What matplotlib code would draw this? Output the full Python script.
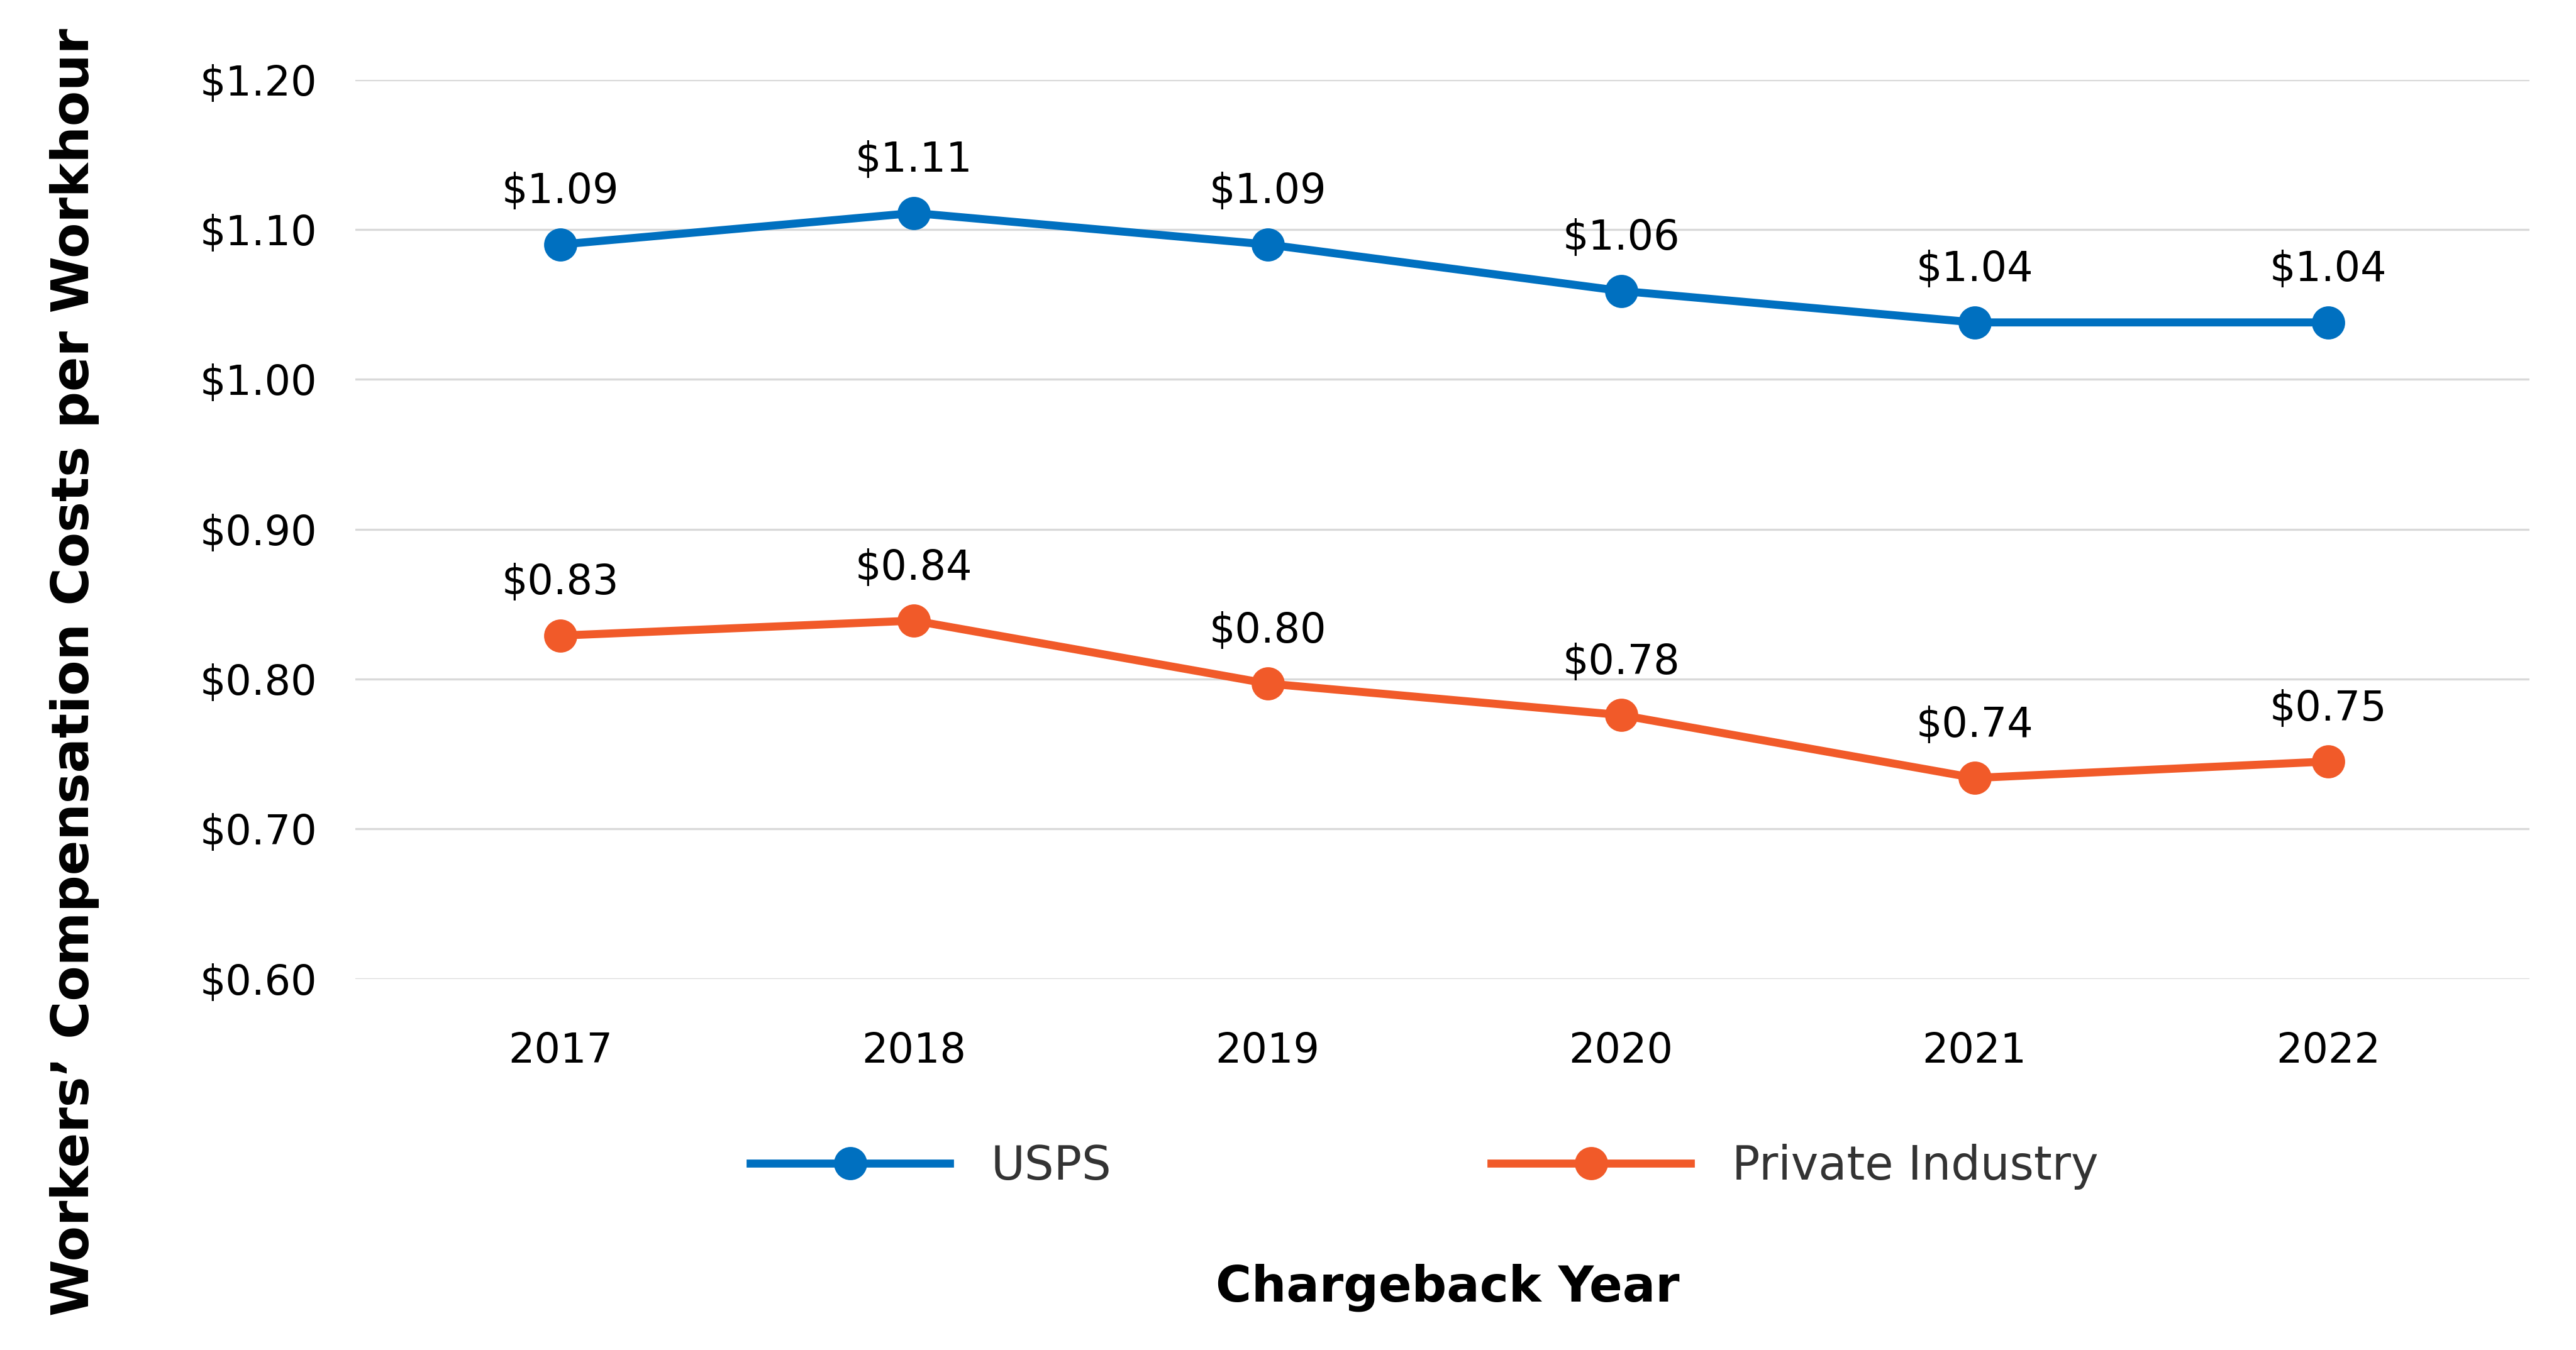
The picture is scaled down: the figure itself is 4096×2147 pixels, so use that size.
import matplotlib
matplotlib.use("Agg")
import matplotlib.pyplot as plt

years = ["2017", "2018", "2019", "2020", "2021", "2022"]
usps = [1.09, 1.111, 1.09, 1.059, 1.038, 1.038]
private = [0.829, 0.839, 0.797, 0.776, 0.734, 0.745]
usps_labels = ["$1.09", "$1.11", "$1.09", "$1.06", "$1.04", "$1.04"]
private_labels = ["$0.83", "$0.84", "$0.80", "$0.78", "$0.74", "$0.75"]
yticks = [0.60, 0.70, 0.80, 0.90, 1.00, 1.10, 1.20]

blue = "#0070C0"
orange = "#F15A29"

plt.rcParams["font.family"] = ["DejaVu Sans"]

fig = plt.figure(figsize=(20.48, 10.735), dpi=200)
ax = fig.add_axes([0.138, 0.275, 0.844, 0.666])

x = list(range(len(years)))
ax.plot(x, usps, color=blue, lw=4.6, marker="o", ms=18, label="USPS", zorder=3)
ax.plot(x, private, color=orange, lw=4.6, marker="o", ms=18, label="Private Industry", zorder=3)

for xi, v, s in zip(x, usps, usps_labels):
    ax.annotate(s, (xi, v), xytext=(0, 30), textcoords="offset points",
                ha="center", va="center", fontsize=23.5, color="black")
for xi, v, s in zip(x, private, private_labels):
    ax.annotate(s, (xi, v), xytext=(0, 30), textcoords="offset points",
                ha="center", va="center", fontsize=23.5, color="black")

ax.set_xlim(-0.58, 5.57)
ax.set_ylim(0.6, 1.2)
ax.set_xticks(x)
ax.set_xticklabels(years)
ax.set_yticks(yticks)
ax.set_yticklabels(["${:.2f}".format(t) for t in yticks])
ax.tick_params(axis="both", length=0, labelsize=23.5)
ax.tick_params(axis="y", pad=22)
ax.tick_params(axis="x", pad=30)
ax.grid(axis="y", color="#D9D9D9", lw=1.2)
ax.set_axisbelow(True)
for sp in ax.spines.values():
    sp.set_visible(False)

fig.text(0.029, 0.502, "Workers\u2019 Compensation Costs per Workhour", rotation=90,
         ha="center", va="center", fontsize=29.5, fontweight="bold")
fig.text(0.562, 0.046, "Chargeback Year", ha="center", va="center",
         fontsize=28, fontweight="bold")

leg = fig.legend(loc="center", bbox_to_anchor=(0.553, 0.136), ncol=2, frameon=False,
                 fontsize=26.5, handlelength=4.3, handletextpad=0.9, columnspacing=8.2,
                 labelcolor="#333333")

fig.savefig("out.png", dpi=200, facecolor="white")
